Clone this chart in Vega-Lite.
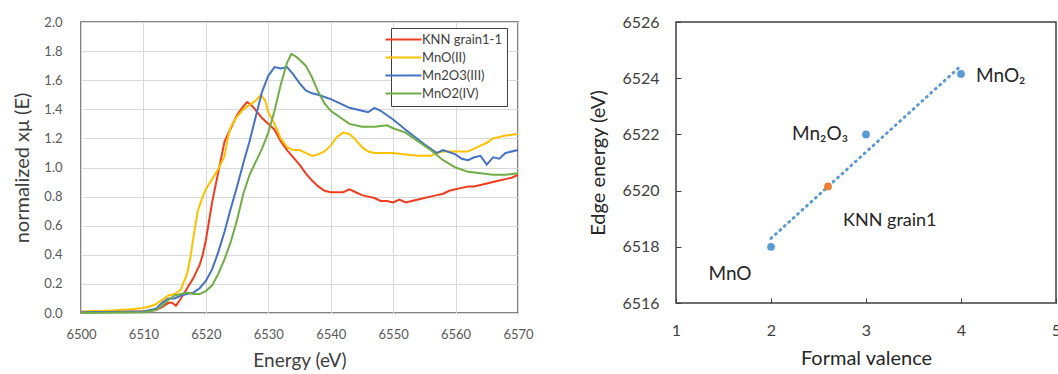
{
  "$schema": "https://vega.github.io/schema/vega-lite/v6.json",
  "padding": {"left": 12, "top": 13, "right": 0, "bottom": 0},
  "config": {"font": "Lato, DejaVu Sans", "view": {"stroke": null}},
  "spacing": 54,
  "resolve": {"scale": {"color": "independent"}, "legend": {"color": "independent"}},
  "datasets": {
    "spectra": [
      {"s":"KNN grain1-1","e":6500,"v":0.005},{"s":"KNN grain1-1","e":6505,"v":0.008},{"s":"KNN grain1-1","e":6510,"v":0.012},{"s":"KNN grain1-1","e":6512,"v":0.02},{"s":"KNN grain1-1","e":6513,"v":0.04},{"s":"KNN grain1-1","e":6514,"v":0.07},{"s":"KNN grain1-1","e":6514.6,"v":0.07},{"s":"KNN grain1-1","e":6515.2,"v":0.05},{"s":"KNN grain1-1","e":6516,"v":0.1},{"s":"KNN grain1-1","e":6517,"v":0.17},{"s":"KNN grain1-1","e":6518,"v":0.24},{"s":"KNN grain1-1","e":6519,"v":0.33},{"s":"KNN grain1-1","e":6519.5,"v":0.4},{"s":"KNN grain1-1","e":6520,"v":0.5},{"s":"KNN grain1-1","e":6521,"v":0.76},{"s":"KNN grain1-1","e":6522,"v":0.97},{"s":"KNN grain1-1","e":6523,"v":1.18},{"s":"KNN grain1-1","e":6524,"v":1.27},{"s":"KNN grain1-1","e":6525,"v":1.36},{"s":"KNN grain1-1","e":6526,"v":1.42},{"s":"KNN grain1-1","e":6526.6,"v":1.45},{"s":"KNN grain1-1","e":6527.5,"v":1.42},{"s":"KNN grain1-1","e":6529,"v":1.34},{"s":"KNN grain1-1","e":6530,"v":1.3},{"s":"KNN grain1-1","e":6531,"v":1.26},{"s":"KNN grain1-1","e":6532,"v":1.18},{"s":"KNN grain1-1","e":6533,"v":1.12},{"s":"KNN grain1-1","e":6534,"v":1.07},{"s":"KNN grain1-1","e":6535,"v":1.02},{"s":"KNN grain1-1","e":6536,"v":0.96},{"s":"KNN grain1-1","e":6537,"v":0.91},{"s":"KNN grain1-1","e":6538,"v":0.87},{"s":"KNN grain1-1","e":6539,"v":0.84},{"s":"KNN grain1-1","e":6540,"v":0.83},{"s":"KNN grain1-1","e":6541,"v":0.83},{"s":"KNN grain1-1","e":6542,"v":0.83},{"s":"KNN grain1-1","e":6543,"v":0.85},{"s":"KNN grain1-1","e":6544,"v":0.83},{"s":"KNN grain1-1","e":6545,"v":0.81},{"s":"KNN grain1-1","e":6546,"v":0.8},{"s":"KNN grain1-1","e":6547,"v":0.79},{"s":"KNN grain1-1","e":6548,"v":0.77},{"s":"KNN grain1-1","e":6549,"v":0.77},{"s":"KNN grain1-1","e":6550,"v":0.76},{"s":"KNN grain1-1","e":6551,"v":0.78},{"s":"KNN grain1-1","e":6552,"v":0.76},{"s":"KNN grain1-1","e":6553,"v":0.77},{"s":"KNN grain1-1","e":6554,"v":0.78},{"s":"KNN grain1-1","e":6555,"v":0.79},{"s":"KNN grain1-1","e":6556,"v":0.8},{"s":"KNN grain1-1","e":6557,"v":0.81},{"s":"KNN grain1-1","e":6558,"v":0.82},{"s":"KNN grain1-1","e":6559,"v":0.84},{"s":"KNN grain1-1","e":6560,"v":0.85},{"s":"KNN grain1-1","e":6561,"v":0.86},{"s":"KNN grain1-1","e":6562,"v":0.87},{"s":"KNN grain1-1","e":6563,"v":0.87},{"s":"KNN grain1-1","e":6564,"v":0.88},{"s":"KNN grain1-1","e":6565,"v":0.89},{"s":"KNN grain1-1","e":6566,"v":0.9},{"s":"KNN grain1-1","e":6567,"v":0.91},{"s":"KNN grain1-1","e":6568,"v":0.92},{"s":"KNN grain1-1","e":6569,"v":0.93},{"s":"KNN grain1-1","e":6570,"v":0.95},

      {"s":"MnO(II)","e":6500,"v":0.01},{"s":"MnO(II)","e":6505,"v":0.018},{"s":"MnO(II)","e":6508,"v":0.025},{"s":"MnO(II)","e":6510,"v":0.035},{"s":"MnO(II)","e":6511,"v":0.045},{"s":"MnO(II)","e":6512,"v":0.06},{"s":"MnO(II)","e":6513,"v":0.09},{"s":"MnO(II)","e":6514,"v":0.12},{"s":"MnO(II)","e":6515,"v":0.13},{"s":"MnO(II)","e":6516,"v":0.16},{"s":"MnO(II)","e":6517,"v":0.27},{"s":"MnO(II)","e":6517.6,"v":0.4},{"s":"MnO(II)","e":6518,"v":0.52},{"s":"MnO(II)","e":6518.7,"v":0.7},{"s":"MnO(II)","e":6519.5,"v":0.8},{"s":"MnO(II)","e":6520,"v":0.85},{"s":"MnO(II)","e":6521,"v":0.92},{"s":"MnO(II)","e":6522,"v":0.99},{"s":"MnO(II)","e":6523,"v":1.08},{"s":"MnO(II)","e":6523.5,"v":1.2},{"s":"MnO(II)","e":6524,"v":1.28},{"s":"MnO(II)","e":6525,"v":1.35},{"s":"MnO(II)","e":6526,"v":1.4},{"s":"MnO(II)","e":6527,"v":1.43},{"s":"MnO(II)","e":6528,"v":1.46},{"s":"MnO(II)","e":6528.8,"v":1.5},{"s":"MnO(II)","e":6529.5,"v":1.46},{"s":"MnO(II)","e":6530,"v":1.38},{"s":"MnO(II)","e":6531,"v":1.3},{"s":"MnO(II)","e":6532,"v":1.2},{"s":"MnO(II)","e":6533,"v":1.14},{"s":"MnO(II)","e":6534,"v":1.12},{"s":"MnO(II)","e":6535,"v":1.12},{"s":"MnO(II)","e":6536,"v":1.1},{"s":"MnO(II)","e":6537,"v":1.08},{"s":"MnO(II)","e":6538,"v":1.09},{"s":"MnO(II)","e":6539,"v":1.11},{"s":"MnO(II)","e":6540,"v":1.15},{"s":"MnO(II)","e":6541,"v":1.21},{"s":"MnO(II)","e":6542,"v":1.24},{"s":"MnO(II)","e":6543,"v":1.23},{"s":"MnO(II)","e":6544,"v":1.19},{"s":"MnO(II)","e":6545,"v":1.14},{"s":"MnO(II)","e":6546,"v":1.11},{"s":"MnO(II)","e":6547,"v":1.1},{"s":"MnO(II)","e":6548,"v":1.1},{"s":"MnO(II)","e":6550,"v":1.1},{"s":"MnO(II)","e":6552,"v":1.09},{"s":"MnO(II)","e":6554,"v":1.08},{"s":"MnO(II)","e":6556,"v":1.08},{"s":"MnO(II)","e":6557,"v":1.1},{"s":"MnO(II)","e":6558,"v":1.11},{"s":"MnO(II)","e":6560,"v":1.11},{"s":"MnO(II)","e":6562,"v":1.11},{"s":"MnO(II)","e":6563,"v":1.13},{"s":"MnO(II)","e":6564,"v":1.15},{"s":"MnO(II)","e":6565,"v":1.17},{"s":"MnO(II)","e":6566,"v":1.2},{"s":"MnO(II)","e":6567,"v":1.21},{"s":"MnO(II)","e":6568,"v":1.22},{"s":"MnO(II)","e":6570,"v":1.23},

      {"s":"Mn2O3(III)","e":6500,"v":0.005},{"s":"Mn2O3(III)","e":6510,"v":0.01},{"s":"Mn2O3(III)","e":6512,"v":0.03},{"s":"Mn2O3(III)","e":6513,"v":0.07},{"s":"Mn2O3(III)","e":6514,"v":0.1},{"s":"Mn2O3(III)","e":6515,"v":0.1},{"s":"Mn2O3(III)","e":6516,"v":0.12},{"s":"Mn2O3(III)","e":6517,"v":0.13},{"s":"Mn2O3(III)","e":6518,"v":0.14},{"s":"Mn2O3(III)","e":6519,"v":0.17},{"s":"Mn2O3(III)","e":6520,"v":0.22},{"s":"Mn2O3(III)","e":6521,"v":0.3},{"s":"Mn2O3(III)","e":6522,"v":0.42},{"s":"Mn2O3(III)","e":6523,"v":0.56},{"s":"Mn2O3(III)","e":6524,"v":0.72},{"s":"Mn2O3(III)","e":6525,"v":0.87},{"s":"Mn2O3(III)","e":6526,"v":1.03},{"s":"Mn2O3(III)","e":6527,"v":1.18},{"s":"Mn2O3(III)","e":6528,"v":1.35},{"s":"Mn2O3(III)","e":6529,"v":1.52},{"s":"Mn2O3(III)","e":6530,"v":1.63},{"s":"Mn2O3(III)","e":6531,"v":1.69},{"s":"Mn2O3(III)","e":6532,"v":1.68},{"s":"Mn2O3(III)","e":6533,"v":1.69},{"s":"Mn2O3(III)","e":6534,"v":1.64},{"s":"Mn2O3(III)","e":6535,"v":1.58},{"s":"Mn2O3(III)","e":6536,"v":1.53},{"s":"Mn2O3(III)","e":6537,"v":1.51},{"s":"Mn2O3(III)","e":6538,"v":1.5},{"s":"Mn2O3(III)","e":6540,"v":1.47},{"s":"Mn2O3(III)","e":6542,"v":1.43},{"s":"Mn2O3(III)","e":6543,"v":1.41},{"s":"Mn2O3(III)","e":6545,"v":1.39},{"s":"Mn2O3(III)","e":6546,"v":1.38},{"s":"Mn2O3(III)","e":6547,"v":1.41},{"s":"Mn2O3(III)","e":6548,"v":1.39},{"s":"Mn2O3(III)","e":6550,"v":1.33},{"s":"Mn2O3(III)","e":6552,"v":1.26},{"s":"Mn2O3(III)","e":6555,"v":1.16},{"s":"Mn2O3(III)","e":6557,"v":1.1},{"s":"Mn2O3(III)","e":6558,"v":1.12},{"s":"Mn2O3(III)","e":6560,"v":1.09},{"s":"Mn2O3(III)","e":6561,"v":1.06},{"s":"Mn2O3(III)","e":6562,"v":1.05},{"s":"Mn2O3(III)","e":6563,"v":1.07},{"s":"Mn2O3(III)","e":6564,"v":1.08},{"s":"Mn2O3(III)","e":6565,"v":1.02},{"s":"Mn2O3(III)","e":6566,"v":1.07},{"s":"Mn2O3(III)","e":6567,"v":1.06},{"s":"Mn2O3(III)","e":6568,"v":1.1},{"s":"Mn2O3(III)","e":6570,"v":1.12},

      {"s":"MnO2(IV)","e":6500,"v":0.0},{"s":"MnO2(IV)","e":6510,"v":0.005},{"s":"MnO2(IV)","e":6512,"v":0.02},{"s":"MnO2(IV)","e":6513,"v":0.05},{"s":"MnO2(IV)","e":6514,"v":0.09},{"s":"MnO2(IV)","e":6515,"v":0.12},{"s":"MnO2(IV)","e":6516,"v":0.13},{"s":"MnO2(IV)","e":6517,"v":0.14},{"s":"MnO2(IV)","e":6518,"v":0.13},{"s":"MnO2(IV)","e":6519,"v":0.13},{"s":"MnO2(IV)","e":6520,"v":0.15},{"s":"MnO2(IV)","e":6521,"v":0.19},{"s":"MnO2(IV)","e":6522,"v":0.27},{"s":"MnO2(IV)","e":6523,"v":0.37},{"s":"MnO2(IV)","e":6524,"v":0.49},{"s":"MnO2(IV)","e":6525,"v":0.64},{"s":"MnO2(IV)","e":6526,"v":0.82},{"s":"MnO2(IV)","e":6527,"v":0.95},{"s":"MnO2(IV)","e":6528,"v":1.04},{"s":"MnO2(IV)","e":6529,"v":1.13},{"s":"MnO2(IV)","e":6530,"v":1.24},{"s":"MnO2(IV)","e":6531,"v":1.39},{"s":"MnO2(IV)","e":6532,"v":1.57},{"s":"MnO2(IV)","e":6533,"v":1.72},{"s":"MnO2(IV)","e":6533.7,"v":1.78},{"s":"MnO2(IV)","e":6534.5,"v":1.76},{"s":"MnO2(IV)","e":6535,"v":1.74},{"s":"MnO2(IV)","e":6536,"v":1.7},{"s":"MnO2(IV)","e":6537,"v":1.62},{"s":"MnO2(IV)","e":6538,"v":1.52},{"s":"MnO2(IV)","e":6539,"v":1.44},{"s":"MnO2(IV)","e":6540,"v":1.39},{"s":"MnO2(IV)","e":6541,"v":1.36},{"s":"MnO2(IV)","e":6542,"v":1.33},{"s":"MnO2(IV)","e":6543,"v":1.3},{"s":"MnO2(IV)","e":6545,"v":1.28},{"s":"MnO2(IV)","e":6547,"v":1.28},{"s":"MnO2(IV)","e":6549,"v":1.29},{"s":"MnO2(IV)","e":6550,"v":1.27},{"s":"MnO2(IV)","e":6552,"v":1.24},{"s":"MnO2(IV)","e":6554,"v":1.18},{"s":"MnO2(IV)","e":6556,"v":1.12},{"s":"MnO2(IV)","e":6558,"v":1.05},{"s":"MnO2(IV)","e":6560,"v":1.0},{"s":"MnO2(IV)","e":6562,"v":0.97},{"s":"MnO2(IV)","e":6564,"v":0.96},{"s":"MnO2(IV)","e":6566,"v":0.95},{"s":"MnO2(IV)","e":6568,"v":0.95},{"s":"MnO2(IV)","e":6570,"v":0.96}
    ],
    "edges": [
      {"name":"MnO","label":"MnO","kind":"ref","valence":2,"edge":6518.0},
      {"name":"Mn2O3","label":"Mn₂O₃","kind":"ref","valence":3,"edge":6522.0},
      {"name":"MnO2","label":"MnO₂","kind":"ref","valence":4,"edge":6524.15},
      {"name":"KNN","label":"KNN grain1","kind":"sample","valence":2.6,"edge":6520.15}
    ],
    "trend": [
      {"valence":2,"edge":6518.3},
      {"valence":3.97,"edge":6524.35}
    ]
  },
  "hconcat": [
    {
      "width": 437,
      "height": 291,
      "view": {"stroke": "#595959", "strokeWidth": 1.5},
      "data": {"name": "spectra"},
      "mark": {"type": "line", "strokeWidth": 2},
      "encoding": {
        "x": {"field": "e", "type": "quantitative",
          "scale": {"domain": [6500, 6570], "nice": false, "zero": false},
          "axis": {"values": [6500,6510,6520,6530,6540,6550,6560,6570], "format": "d", "title": "Energy (eV)", "labelFlush": false,
            "grid": true, "gridColor": "#d9d9d9", "ticks": false, "domain": false,
            "labelFontSize": 13, "labelColor": "#595959", "labelPadding": 15,
            "titleFontSize": 19, "titleFontWeight": "normal", "titleColor": "#404040", "titlePadding": 10}},
        "y": {"field": "v", "type": "quantitative",
          "scale": {"domain": [0, 2], "nice": false},
          "axis": {"values": [0,0.2,0.4,0.6,0.8,1.0,1.2,1.4,1.6,1.8,2.0], "format": ".1f", "title": "normalized  xμ   (E)",
            "grid": true, "gridColor": "#d9d9d9", "ticks": false, "domain": false,
            "labelFontSize": 13, "labelColor": "#595959", "labelPadding": 19,
            "titleFontSize": 20, "titleFontWeight": "normal", "titleColor": "#404040", "titlePadding": 11}},
        "color": {"field": "s", "type": "nominal",
          "scale": {"domain": ["KNN grain1-1","MnO(II)","Mn2O3(III)","MnO2(IV)"], "range": ["#f03c1e","#ffc000","#4472c4","#70ad47"]},
          "legend": {"orient": "none", "legendX": 310, "legendY": 6, "title": null,
            "strokeColor": "#404040", "fillColor": "white", "padding": 5,
            "symbolType": "M-6,0H6", "symbolSize": 36, "symbolStrokeWidth": 2, "symbolOffset": 1,
            "labelFontSize": 13, "labelColor": "#404040", "rowPadding": 4, "labelOffset": 12}}
      }
    },
    {
      "width": 380,
      "height": 281,
      "view": {"stroke": "#404040", "strokeWidth": 1.5},
      "layer": [
        {
          "data": {"name": "trend"},
          "mark": {"type": "line", "strokeDash": [1, 5], "strokeWidth": 3, "strokeCap": "round", "color": "#5b9bd5"},
          "encoding": {
            "x": {"field": "valence", "type": "quantitative",
              "scale": {"domain": [1, 5], "nice": false, "zero": false},
              "axis": {"values": [1,1.5,2,2.5,3,3.5,4,4.5,5], "format": "d", "labelExpr": "datum.value % 1 === 0 ? datum.label : ''", "labelFlush": false,
                "title": "Formal valence", "grid": false, "domain": false, "tickSize": -5, "tickColor": "#404040",
                "labelFontSize": 16, "labelColor": "#404040", "labelPadding": 24,
                "titleFontSize": 20, "titleFontWeight": "normal", "titleColor": "#262626", "titlePadding": 10}},
            "y": {"field": "edge", "type": "quantitative",
              "scale": {"domain": [6516, 6526], "nice": false, "zero": false},
              "axis": {"values": [6516,6517,6518,6519,6520,6521,6522,6523,6524,6525,6526], "format": "d",
                "labelExpr": "datum.value % 2 === 0 ? datum.label : ''",
                "title": "Edge energy (eV)", "grid": false, "domain": false, "tickSize": -5, "tickColor": "#404040",
                "labelFontSize": 16, "labelColor": "#404040", "labelPadding": 22,
                "titleFontSize": 20, "titleFontWeight": "normal", "titleColor": "#262626", "titlePadding": 13}}
          }
        },
        {
          "data": {"name": "edges"},
          "mark": {"type": "point", "filled": true, "size": 60, "opacity": 1},
          "encoding": {
            "x": {"field": "valence", "type": "quantitative"},
            "y": {"field": "edge", "type": "quantitative"},
            "color": {"field": "kind", "type": "nominal", "scale": {"domain": ["ref","sample"], "range": ["#5b9bd5","#ed7d31"]}, "legend": null}
          }
        },
        {
          "data": {"name": "edges"},
          "transform": [{"filter": "datum.name === 'MnO'"}],
          "mark": {"type": "text", "align": "center", "baseline": "middle", "dx": -41, "dy": 27, "fontSize": 19, "color": "#262626"},
          "encoding": {"x": {"field": "valence", "type": "quantitative"}, "y": {"field": "edge", "type": "quantitative"}, "text": {"field": "label"}}
        },
        {
          "data": {"name": "edges"},
          "transform": [{"filter": "datum.name === 'Mn2O3'"}],
          "mark": {"type": "text", "align": "right", "baseline": "middle", "dx": -18, "dy": 0, "fontSize": 19, "color": "#262626"},
          "encoding": {"x": {"field": "valence", "type": "quantitative"}, "y": {"field": "edge", "type": "quantitative"}, "text": {"field": "label"}}
        },
        {
          "data": {"name": "edges"},
          "transform": [{"filter": "datum.name === 'MnO2'"}],
          "mark": {"type": "text", "align": "left", "baseline": "middle", "dx": 15, "dy": 2, "fontSize": 19, "color": "#262626"},
          "encoding": {"x": {"field": "valence", "type": "quantitative"}, "y": {"field": "edge", "type": "quantitative"}, "text": {"field": "label"}}
        },
        {
          "data": {"name": "edges"},
          "transform": [{"filter": "datum.name === 'KNN'"}],
          "mark": {"type": "text", "align": "left", "baseline": "middle", "dx": 15, "dy": 35, "fontSize": 18, "color": "#262626"},
          "encoding": {"x": {"field": "valence", "type": "quantitative"}, "y": {"field": "edge", "type": "quantitative"}, "text": {"field": "label"}}
        }
      ]
    }
  ]
}
